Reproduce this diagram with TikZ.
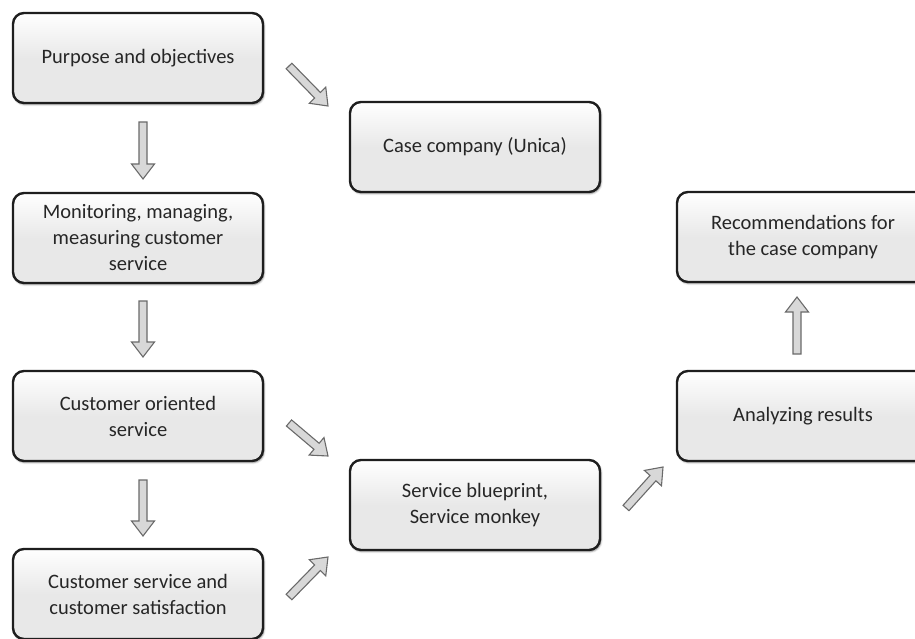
\documentclass[tikz,border=0pt]{standalone}
\usepackage{fontspec}
\setmainfont{Carlito}
\usetikzlibrary{calc,shadows.blur}
\definecolor{boxline}{HTML}{1E1E1E}
\definecolor{boxfill}{HTML}{E8E8E8}
\definecolor{arrline}{HTML}{6A6A6A}
\definecolor{arrfill}{HTML}{D8D8D8}
\tikzset{
  box/.style={draw=boxline, line width=2.4pt, rounded corners=11pt,
    top color=white, bottom color=boxfill, middle color=boxfill,
    minimum width=250pt, minimum height=90pt, align=center,
    font=\fontsize{20.5}{26}\selectfont, text=black!85,
    blur shadow={shadow xshift=1pt, shadow yshift=-1.5pt, shadow blur steps=8, shadow opacity=45}},
  barr/.style={draw=arrline, fill=arrfill, line width=1.1pt, line join=miter}
}
\newcommand{\barrow}[2]{%
  \coordinate (ba-n) at ($(#2)!15pt!(#1)$);
  \filldraw[barr] ($(#1)!4pt!90:(#2)$) -- ($(ba-n)!4pt!90:(#2)$) -- ($(ba-n)!11.5pt!90:(#2)$) -- (#2)
    -- ($(ba-n)!11.5pt!-90:(#2)$) -- ($(ba-n)!4pt!-90:(#2)$) -- ($(#1)!4pt!-90:(#2)$) -- cycle;}
\begin{document}
\begin{tikzpicture}[x=1pt,y=-1pt]
\path[use as bounding box] (0,0) rectangle (915,639);
\begin{scope}
\clip (0,0) rectangle (915,639);
\node[box] (p) at (138,58) {Purpose and objectives};
\node[box] (m) at (138,238) {Monitoring, managing,\\measuring customer\\service};
\node[box] (co) at (138,416) {Customer oriented\\service};
\node[box] (cs) at (138,594) {Customer service and\\customer satisfaction};
\node[box] (cc) at (475,147) {Case company (Unica)};
\node[box] (sb) at (475,505) {Service blueprint,\\Service monkey};
\node[box, minimum width=252pt] (rc) at (803,237) {Recommendations for\\the case company};
\node[box, minimum width=252pt] (ar) at (803,416) {Analyzing results};
\end{scope}
% arrow end points
\coordinate (a1s) at (143,122); \coordinate (a1e) at (143,179);
\coordinate (a2s) at (143,301); \coordinate (a2e) at (143,357);
\coordinate (a3s) at (143,480); \coordinate (a3e) at (143,536);
\coordinate (a4s) at (289,66);  \coordinate (a4e) at (328,106);
\coordinate (a5s) at (289,423); \coordinate (a5e) at (328,456);
\coordinate (a6s) at (289,597); \coordinate (a6e) at (328,557);
\coordinate (a7s) at (626,508); \coordinate (a7e) at (663,467);
\coordinate (a8s) at (797,354); \coordinate (a8e) at (797,297);
\barrow{a1s}{a1e}
\barrow{a2s}{a2e}
\barrow{a3s}{a3e}
\barrow{a4s}{a4e}
\barrow{a5s}{a5e}
\barrow{a6s}{a6e}
\barrow{a7s}{a7e}
\barrow{a8s}{a8e}
\end{tikzpicture}
\end{document}
